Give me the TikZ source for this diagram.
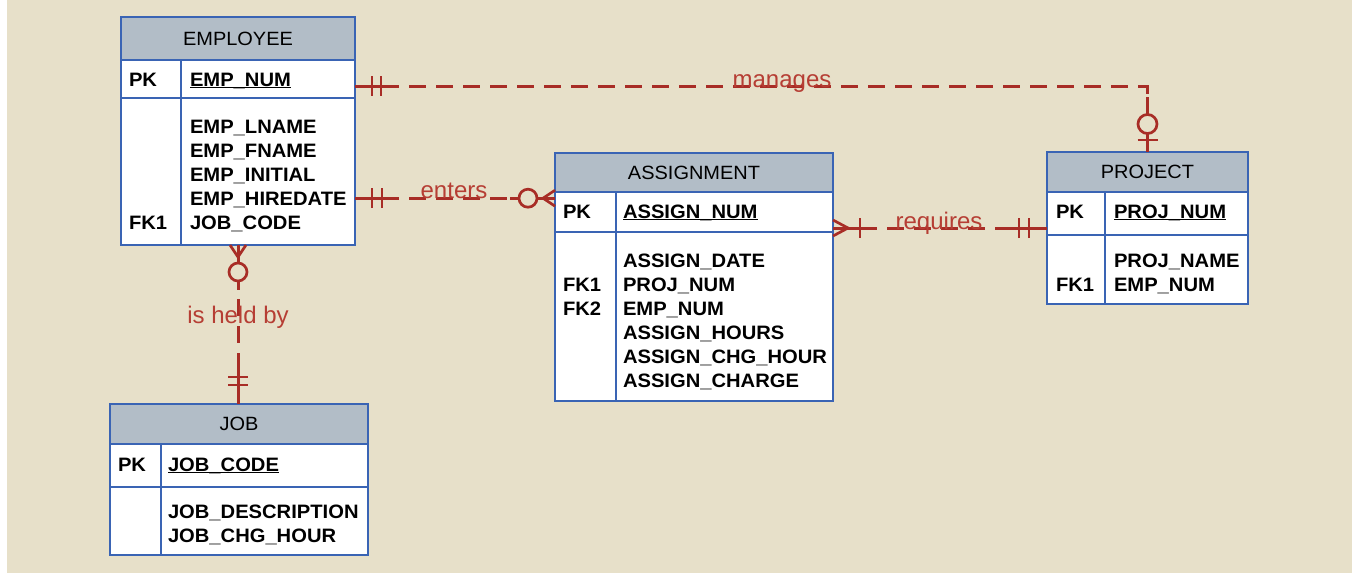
\documentclass[tikz,border=0pt]{standalone}
\usepackage{fontspec}
\setmainfont{Liberation Sans}
\newfontfamily\widefam{Liberation Sans}[FakeStretch=1.04]
\usetikzlibrary{calc}
\definecolor{bgc}{RGB}{231,224,201}
\definecolor{tblue}{RGB}{58,100,180}
\definecolor{hdrg}{RGB}{178,189,199}
\definecolor{rel}{RGB}{168,45,38}
\definecolor{rellab}{RGB}{182,62,52}
\newcommand\attrfont{\widefam\fontsize{19.4}{24}\selectfont\bfseries}
\newcommand\hdrfont{\widefam\fontsize{19.2}{22}\selectfont}
\newcommand\labfont{\fontsize{24}{28}\selectfont}
\newcommand\uln[1]{\setbox0\hbox{#1}\rlap{\rule[-2.4pt]{\wd0}{1.3pt}}\box0}
\tikzset{
  solidc/.style={draw=rel, line width=3pt},
  thinc/.style={draw=rel, line width=2.7pt},
  pics/oneone/.style n args={3}{code={
    \draw[solidc] (0,0) -- (#3,0);
    \draw[thinc] (#1,-10) -- (#1,10);
    \draw[thinc] (#2,-10) -- (#2,10);
  }},
  pics/zeroone/.style n args={3}{code={
    \draw[solidc] (0,0) -- (#3,0);
    \draw[thinc] (#1,-10) -- (#1,10);
    \draw[thinc, fill=bgc] (#2,0) circle[radius=9.5];
  }},
  pics/zeromany/.style n args={3}{code={
    \draw[solidc] (0,0) -- (#3,0);
    \draw[thinc] (0,-8) -- (#1,0) -- (0,8);
    \draw[thinc, fill=bgc] (#2,0) circle[radius=9];
  }},
  pics/onemany/.style n args={3}{code={
    \draw[solidc] (0,0) -- (#3,0);
    \draw[thinc] (0,-8) -- (#1,0) -- (0,8);
    \draw[thinc] (#2,-10) -- (#2,10);
  }},
}
\begin{document}
\begin{tikzpicture}[x=1pt,y=-1pt,
  tblbox/.style={fill=white, anchor=north west, inner sep=0pt, outer sep=0pt},
  hdr/.style={fill=hdrg, anchor=north west, inner sep=0pt, outer sep=0pt, font=\hdrfont, text height=13.3pt, text depth=0pt},
  tline/.style={draw=tblue, line width=2.4pt},
  attr/.style={anchor=base west, inner sep=0pt, outer sep=0pt, font=\attrfont, text height=13.6pt, text depth=0pt},
  conn/.style={draw=rel, line width=3pt, dash pattern=on 17pt off 10pt},
  rlabel/.style={text=rellab, font=\labfont, inner sep=0pt, anchor=base},
]
\useasboundingbox (0,0) rectangle (1352,573);
\fill[white] (0,0) rectangle (1352,573);
\fill[bgc] (7,0) rectangle (1352,573);

% EMPLOYEE
\node[tblbox, minimum width=234pt, minimum height=228pt] (emp) at (121,17) {};
\node[hdr, minimum width=234pt, minimum height=43pt] (emph) at (121,17) {EMPLOYEE};
\draw[tline] (121,60) -- (355,60);
\draw[tline] (121,98) -- (355,98);
\draw[tline] (181,60) -- (181,245);
\draw[tline] (emp.north west) rectangle (emp.south east);
\node[attr] (emppk) at (129,86) {PK};
\node[attr] (empnum) at (190,86) {\uln{EMP\_NUM}};
\node[attr] (emplname) at (190,133) {EMP\_LNAME};
\node[attr] (empfname) at (190,157) {EMP\_FNAME};
\node[attr] (empinit) at (190,181) {EMP\_INITIAL};
\node[attr] (emphire) at (190,205) {EMP\_HIREDATE};
\node[attr] (empjob) at (190,229) {JOB\_CODE};
\node[attr] (empfk) at (129,229) {FK1};

% ASSIGNMENT
\node[tblbox, minimum width=278pt, minimum height=248pt] (asg) at (555,153) {};
\node[hdr, minimum width=278pt, minimum height=39pt] (asgh) at (555,153) {ASSIGNMENT};
\draw[tline] (555,192) -- (833,192);
\draw[tline] (555,232) -- (833,232);
\draw[tline] (616,192) -- (616,401);
\draw[tline] (asg.north west) rectangle (asg.south east);
\node[attr] (asgpk) at (563,218) {PK};
\node[attr] (asgnum) at (623,218) {\uln{ASSIGN\_NUM}};
\node[attr] (asgdate) at (623,267) {ASSIGN\_DATE};
\node[attr] (asgproj) at (623,291) {PROJ\_NUM};
\node[attr] (asgemp) at (623,315) {EMP\_NUM};
\node[attr] (asghours) at (623,339) {ASSIGN\_HOURS};
\node[attr] (asgchgh) at (623,363) {ASSIGN\_CHG\_HOUR};
\node[attr] (asgchg) at (623,387) {ASSIGN\_CHARGE};
\node[attr] (asgfka) at (563,291) {FK1};
\node[attr] (asgfkb) at (563,315) {FK2};

% PROJECT
\node[tblbox, minimum width=201pt, minimum height=152pt] (proj) at (1047,152) {};
\node[hdr, minimum width=201pt, minimum height=40pt] (projh) at (1047,152) {PROJECT};
\draw[tline] (1047,192) -- (1248,192);
\draw[tline] (1047,235) -- (1248,235);
\draw[tline] (1105,192) -- (1105,304);
\draw[tline] (proj.north west) rectangle (proj.south east);
\node[attr] (projpk) at (1056,218) {PK};
\node[attr] (projnum) at (1114,218) {\uln{PROJ\_NUM}};
\node[attr] (projname) at (1114,267) {PROJ\_NAME};
\node[attr] (projemp) at (1114,291) {EMP\_NUM};
\node[attr] (projfk) at (1056,291) {FK1};

% JOB
\node[tblbox, minimum width=258pt, minimum height=151pt] (job) at (110,404) {};
\node[hdr, minimum width=258pt, minimum height=40pt] (jobh) at (110,404) {JOB};
\draw[tline] (110,444) -- (368,444);
\draw[tline] (110,487) -- (368,487);
\draw[tline] (161,444) -- (161,555);
\draw[tline] (job.north west) rectangle (job.south east);
\node[attr] (jobpk) at (118,471) {PK};
\node[attr] (jobcode) at (168,471) {\uln{JOB\_CODE}};
\node[attr] (jobdesc) at (168,518) {JOB\_DESCRIPTION};
\node[attr] (jobchg) at (168,542) {JOB\_CHG\_HOUR};

% connectors
\draw[conn] (emp.east |- empnum.base) -- (proj.north |- empnum.base) -- (proj.north);
\draw[conn] (emp.east |- emphire) -- (asg.west |- emphire);
\draw[conn] ($(asg.east |- asgnum.base)+(0,10)$) -- ($(proj.west |- asgnum.base)+(0,10)$);
\draw[conn] (emp.south) -- (emp.south |- job.north);

% cardinality marks
\pic at (emp.east |- empnum.base) {oneone={17}{26}{30}};
\pic[rotate=90] at (proj.north) {zeroone={12}{28}{55}};
\pic at (emp.east |- emphire) {oneone={17}{27}{32}};
\pic[rotate=180] at (asg.west |- emphire) {zeromany={12}{27}{45}};
\pic at ($(asg.east |- asgnum.base)+(0,10)$) {onemany={15}{27}{34}};
\pic[rotate=180] at ($(proj.west |- asgnum.base)+(0,10)$) {oneone={18}{28}{36}};
\pic[rotate=-90] at (emp.south) {zeromany={12}{27}{45}};
\pic[rotate=90] at (emp.south |- job.north) {oneone={19}{27}{40}};

% labels
\node[rlabel] (lman) at (782,87) {manages};
\node[rlabel] (lent) at (454,198) {enters};
\node[rlabel] (lreq) at (939,229) {requires};
\node[rlabel] (lheld) at (238,323) {is held by};
\end{tikzpicture}
\end{document}
